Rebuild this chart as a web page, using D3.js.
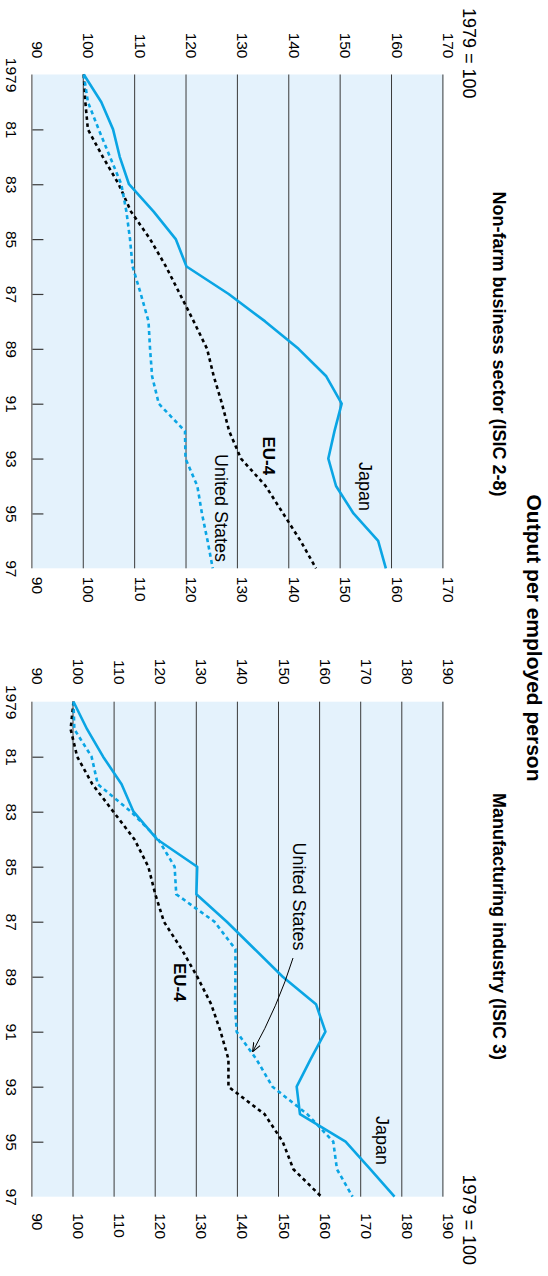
<!DOCTYPE html>
<html>
<head>
<meta charset="utf-8">
<script src="https://cdnjs.cloudflare.com/ajax/libs/d3/7.8.5/d3.min.js"></script>
<style>
  body { margin: 0; background: #fff; }
  svg { display: block; font-family: "Liberation Sans", Arial, Helvetica, sans-serif; }
</style>
</head>
<body>
<svg id="chart"></svg>
<script>
// data, 1979 = 100
var years = [1979, 1980, 1981, 1982, 1983, 1984, 1985, 1986, 1987, 1988,
  1989, 1990, 1991, 1992, 1993, 1994, 1995, 1996, 1997];
var yearTicks = [1981, 1983, 1985, 1987, 1989, 1991, 1993, 1995];
var yearLabelYears = [1979, 1981, 1983, 1985, 1987, 1989, 1991, 1993, 1995, 1997];
var yearLabels = ['1979', '81', '83', '85', '87', '89', '91', '93', '95', '97'];

var nonfarmTicks = [90, 100, 110, 120, 130, 140, 150, 160, 170];
var manufTicks = [90, 100, 110, 120, 130, 140, 150, 160, 170, 180, 190];

var nonfarmJapan = [100, 103.4, 105.7, 107.0, 108.8, 113.6, 117.9, 120.0, 128.2, 135.3,
  141.8, 147.2, 150.2, 148.8, 147.6, 149.1, 152.5, 157.3, 158.8];
var nonfarmUS = [100, 100.8, 102.9, 105.1, 107.3, 108.3, 109.0, 109.5, 111.1, 112.6,
  112.9, 113.3, 114.6, 119.7, 119.8, 122.1, 123.0, 124.1, 125.1];
var nonfarmEU4 = [100, 100.3, 100.8, 103.7, 106.8, 109.2, 112.9, 116.0, 118.7, 121.4,
  124.0, 125.3, 126.9, 128.3, 130.6, 135.4, 138.8, 142.2, 145.2];

var manufJapan = [100, 103.3, 107.2, 111.7, 114.6, 120.3, 130.1, 129.9, 137.3, 144.1,
  150.9, 159.0, 161.3, 157.7, 154.3, 155.1, 166.2, 172.2, 178.1];
var manufUS = [100, 100.2, 104.4, 105.9, 114.0, 120.6, 124.6, 125.0, 134.3, 139.4,
  139.4, 139.3, 139.7, 144.5, 148.4, 156.9, 163.2, 164.1, 167.9];
var manufEU4 = [100, 99.3, 100.9, 104.6, 109.7, 114.8, 118.2, 119.9, 122.0, 126.3,
  130.1, 133.5, 135.8, 137.7, 137.7, 146.5, 150.9, 153.5, 160.3];

var blue = '#0aa5e4';
var plotTop = 104.6;
var plotBottom = 515.6;
var tickFont = 15.5;

// the chart is drawn landscape (1276 x 548) and turned a quarter clockwise
var svg = d3.select('#chart')
  .attr('width', 548)
  .attr('height', 1276);

svg.append('defs')
  .append('marker')
  .attr('id', 'arrow')
  .attr('viewBox', '0 0 10 10')
  .attr('refX', 9)
  .attr('refY', 5)
  .attr('markerWidth', 9)
  .attr('markerHeight', 9)
  .attr('markerUnits', 'userSpaceOnUse')
  .attr('orient', 'auto')
  .append('path')
  .attr('d', 'M0,1 L10,5 L0,9')
  .attr('fill', 'none')
  .attr('stroke', '#000')
  .attr('stroke-width', 1.2);

var g = svg.append('g')
  .attr('transform', 'translate(548,0) rotate(90)');

function drawPanel(p) {
  var x = d3.scaleLinear()
    .domain([years[0], years[years.length - 1]])
    .range([p.left, p.right]);

  var y = d3.scaleLinear()
    .domain([p.ticks[0], p.ticks[p.ticks.length - 1]])
    .range([plotBottom, plotTop]);

  var panel = g.append('g');
  var w = p.right - p.left;

  panel.append('rect')
    .attr('x', p.left)
    .attr('y', plotTop)
    .attr('width', w)
    .attr('height', plotBottom - plotTop)
    .attr('fill', '#e4f2fc');

  // grid lines + left labels
  panel.append('g')
    .attr('transform', 'translate(' + p.left + ',0)')
    .call(d3.axisLeft(y).tickValues(p.ticks).tickSize(-w).tickPadding(p.padLeft))
    .attr('font-family', null)
    .attr('font-size', tickFont)
    .call(a => a.select('.domain').remove())
    .call(a => a.selectAll('line').attr('stroke', '#3a3a3a').attr('stroke-width', 1))
    .call(a => a.selectAll('text').attr('dy', 0).attr('fill', '#000'));

  // right labels
  panel.append('g')
    .attr('transform', 'translate(' + p.right + ',0)')
    .call(d3.axisRight(y).tickValues(p.ticks).tickSize(0).tickPadding(p.padRight))
    .attr('font-family', null)
    .attr('font-size', tickFont)
    .call(a => a.select('.domain').remove())
    .call(a => a.selectAll('text').attr('dy', 0).attr('fill', '#000'));

  // year ticks inside the plot
  panel.append('g')
    .attr('transform', 'translate(0,' + plotBottom + ')')
    .call(d3.axisBottom(x).tickValues(yearTicks).tickSize(-11).tickFormat(''))
    .call(a => a.select('.domain').remove())
    .call(a => a.selectAll('line').attr('stroke', '#3a3a3a').attr('stroke-width', 1.2));

  // year labels
  panel.append('g')
    .attr('transform', 'translate(0,' + plotBottom + ')')
    .call(d3.axisBottom(x).tickValues(yearLabelYears).tickSize(0)
      .tickFormat((d, i) => yearLabels[i]))
    .attr('font-family', null)
    .attr('font-size', tickFont)
    .call(a => a.select('.domain').remove())
    .call(a => a.selectAll('text').attr('y', 542.5 - plotBottom).attr('dy', 0).attr('fill', '#000'));

  var line = d3.line()
    .x((d, i) => x(years[i]))
    .y(d => y(d));

  panel.append('path')
    .attr('d', line(p.eu4))
    .attr('fill', 'none')
    .attr('stroke', '#000')
    .attr('stroke-width', 2.6)
    .attr('stroke-dasharray', '3.6,3.4');

  panel.append('path')
    .attr('d', line(p.us))
    .attr('fill', 'none')
    .attr('stroke', blue)
    .attr('stroke-width', 2.6)
    .attr('stroke-dasharray', '4,3.4');

  panel.append('path')
    .attr('d', line(p.japan))
    .attr('fill', 'none')
    .attr('stroke', blue)
    .attr('stroke-width', 2.6)
    .attr('stroke-linejoin', 'round');

  panel.selectAll('text.series')
    .data(p.labels)
    .enter()
    .append('text')
    .attr('class', 'series')
    .attr('x', d => d.x)
    .attr('y', d => d.y)
    .attr('font-size', d => d.size)
    .attr('font-weight', d => d.bold ? 'bold' : 'normal')
    .text(d => d.text);

  panel.append('text')
    .attr('x', p.subX)
    .attr('y', 55)
    .attr('text-anchor', 'middle')
    .attr('font-size', 18)
    .attr('font-weight', 'bold')
    .text(p.subtitle);

  panel.append('text')
    .attr('x', p.baseX)
    .attr('y', 85)
    .attr('text-anchor', p.baseAnchor)
    .attr('font-size', 18)
    .text('1979 = 100');
}

drawPanel({
  left: 74.5, right: 568.3, ticks: nonfarmTicks, padLeft: 16, padRight: 8.5,
  japan: nonfarmJapan, us: nonfarmUS, eu4: nonfarmEU4,
  subtitle: 'Non-farm business sector (ISIC 2-8)', subX: 344,
  baseX: 8, baseAnchor: 'start',
  labels: [
    { text: 'Japan', x: 462, y: 189.5, size: 18 },
    { text: 'United States', x: 454, y: 333, size: 18 },
    { text: 'EU-4', x: 436.5, y: 285, size: 17, bold: true }
  ]
});

drawPanel({
  left: 701.7, right: 1196.7, ticks: manufTicks, padLeft: 17, padRight: 16.5,
  japan: manufJapan, us: manufUS, eu4: manufEU4,
  subtitle: 'Manufacturing industry (ISIC 3)', subX: 926.5,
  baseX: 1265, baseAnchor: 'end',
  labels: [
    { text: 'Japan', x: 1116, y: 172, size: 18 },
    { text: 'United States', x: 842.5, y: 255, size: 18 },
    { text: 'EU-4', x: 963, y: 374.5, size: 17, bold: true }
  ]
});

// pointer from "United States" to its line
g.append('path')
  .attr('d', 'M958,255 Q1006,270 1051,295')
  .attr('fill', 'none')
  .attr('stroke', '#000')
  .attr('stroke-width', 1)
  .attr('marker-end', 'url(#arrow)');

g.append('text')
  .attr('x', 638)
  .attr('y', 21.5)
  .attr('text-anchor', 'middle')
  .attr('font-size', 21)
  .attr('font-weight', 'bold')
  .text('Output per employed person');
</script>
</body>
</html>
